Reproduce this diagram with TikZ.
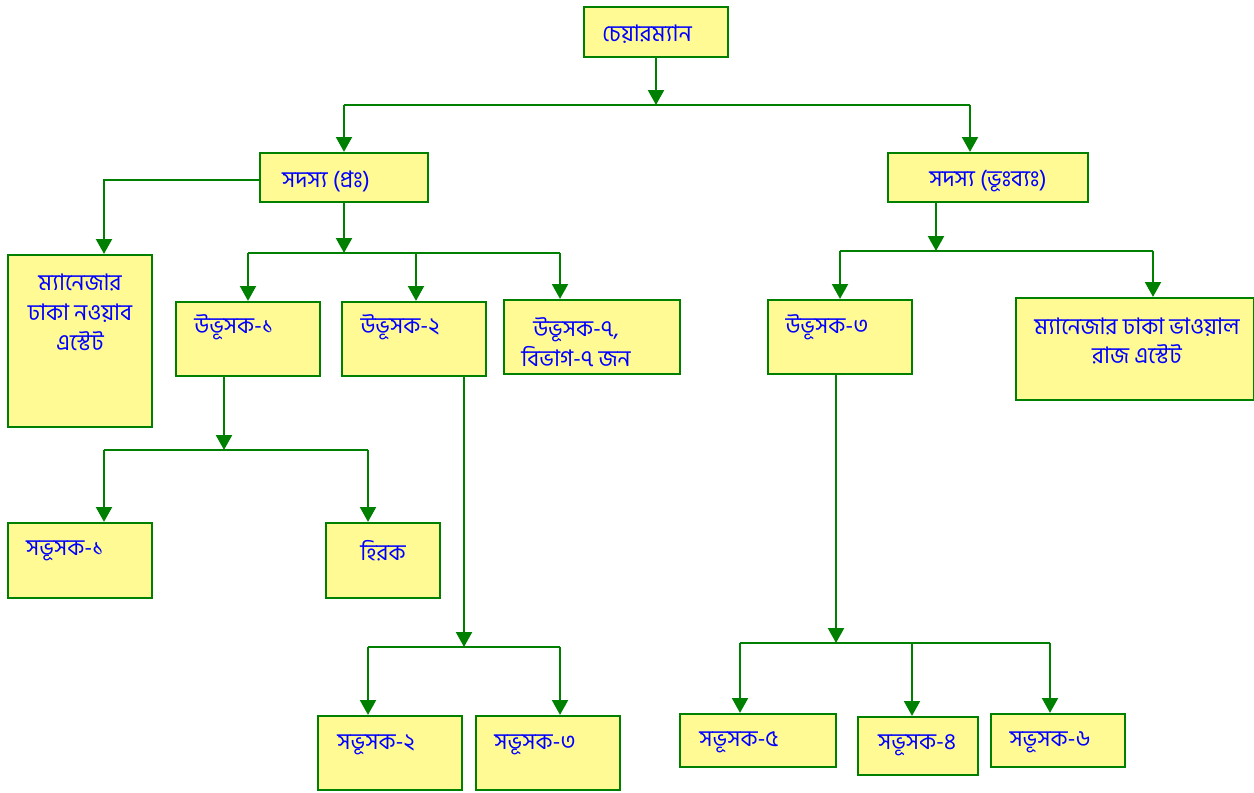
\documentclass[tikz,border=0pt]{standalone}
\usepackage{fontspec}
\newfontfamily\bangla[Script=Bengali]{Hind Siliguri}
\usetikzlibrary{arrows.meta,positioning}

\begin{document}
\begin{tikzpicture}[x=0.02cm,y=-0.02cm]
\colorlet{box edge}{green!50!black}
\colorlet{box area}{yellow!42}
\colorlet{link ink}{green!50!black}
\colorlet{label ink}{blue}
\tikzset{
     post/.style={draw=box edge, fill=box area, line width=1.2pt, inner sep=0pt},
     txt/.style={text=label ink, font=\bangla\fontsize{13}{17}\selectfont, inner sep=0pt, align=center},
     link/.style={draw=link ink, line width=1.5pt},
     arr/.style={link, -{Triangle[width=9pt,length=8.5pt]}}}

\useasboundingbox (0,0) rectangle (1254,793);

% The boxes
\node (chair)  [post, minimum width=2.88cm, minimum height=1.00cm] at (656,32) {};
\node (pra)    [post, minimum width=3.36cm, minimum height=0.98cm] at (344,177.5) {};
\node (bhu)    [post, minimum width=4.00cm, minimum height=0.98cm] at (988,177.5) {};
\node (nawab)  [post, minimum width=2.88cm, minimum height=3.44cm] at (80,341) {};
\node (ub1)    [post, minimum width=2.88cm, minimum height=1.48cm] at (248,339) {};
\node (ub2)    [post, minimum width=2.88cm, minimum height=1.48cm] at (414,339) {};
\node (ub7)    [post, minimum width=3.52cm, minimum height=1.48cm] at (592,337) {};
\node (ub3)    [post, minimum width=2.88cm, minimum height=1.48cm] at (840,337) {};
\node (bhawal) [post, minimum width=4.76cm, minimum height=2.04cm] at (1135,349) {};
\node (sb1)    [post, minimum width=2.88cm, minimum height=1.50cm] at (80,560.5) {};
\node (hirok)  [post, minimum width=2.28cm, minimum height=1.50cm] at (383,560.5) {};
\node (sb2)    [post, minimum width=2.88cm, minimum height=1.48cm] at (390,753) {};
\node (sb3)    [post, minimum width=2.88cm, minimum height=1.48cm] at (548,753) {};
\node (sb5)    [post, minimum width=3.12cm, minimum height=1.06cm] at (758,740.5) {};
\node (sb4)    [post, minimum width=2.40cm, minimum height=1.16cm] at (918,746) {};
\node (sb6)    [post, minimum width=2.68cm, minimum height=1.06cm] at (1058,740.5) {};

% The labels
\node (chairtx)  [txt] at (647,34) {চেয়ারম্যান};
\node (pratx)    [txt] at (326,181) {সদস্য (প্রঃ)};
\node (bhutx)    [txt] at (988,181) {সদস্য (ভূঃব্যঃ)};
\node (nawabtx)  [txt] at (80,312) {ম্যানেজার\\ঢাকা নওয়াব\\এস্টেট};
\node (ub1tx)    [txt] at (234,327) {উভূসক-১};
\node (ub2tx)    [txt] at (400,327) {উভূসক-২};
\node (ub7tx)    [txt] at (576,342) {উভূসক-৭,\\বিভাগ-৭ জন};
\node (ub3tx)    [txt] at (827,327) {উভূসক-৩};
\node (bhawaltx) [txt] at (1137,341) {ম্যানেজার ঢাকা ভাওয়াল\\রাজ এস্টেট};
\node (sb1tx)    [txt] at (65,551) {সভূসক-১};
\node (hiroktx)  [txt] at (383,551) {হিরক};
\node (sb2tx)    [txt] at (376,745) {সভূসক-২};
\node (sb3tx)    [txt] at (535,745) {সভূসক-৩};
\node (sb5tx)    [txt] at (739,742) {সভূসক-৫};
\node (sb4tx)    [txt] at (917,745) {সভূসক-৪};
\node (sb6tx)    [txt] at (1050,742) {সভূসক-৬};

% The junctions
\coordinate (bus0)  at (656,105);
\coordinate (bus0l) at (344,105);
\coordinate (bus0r) at (970,105);
\coordinate (left)  at (104,180);
\coordinate (bus1)  at (344,253);
\coordinate (bus1l) at (248,253);
\coordinate (bus1m) at (416,253);
\coordinate (bus1r) at (560,253);
\coordinate (bus2)  at (936,251);
\coordinate (bus2l) at (840,251);
\coordinate (bus2r) at (1153,251);
\coordinate (bus3)  at (224,450);
\coordinate (bus3l) at (104,450);
\coordinate (bus3r) at (368,450);
\coordinate (bus4)  at (464,647);
\coordinate (bus4l) at (368,647);
\coordinate (bus4r) at (560,647);
\coordinate (bus5)  at (836,643);
\coordinate (bus5l) at (740,643);
\coordinate (bus5m) at (912,643);
\coordinate (bus5r) at (1050,643);

% The connectors
\draw [arr] (chair.south) -- (bus0);
\draw [link] (bus0l) -- (bus0r);
\draw [arr] (bus0l) -- (bus0l |- pra.north);
\draw [arr] (bus0r) -- (bus0r |- bhu.north);

\draw [arr] (pra.west |- left) -- (left) -- (left |- nawab.north);
\draw [arr] (pra.south) -- (bus1);
\draw [link] (bus1l) -- (bus1r);
\draw [arr] (bus1l) -- (bus1l |- ub1.north);
\draw [arr] (bus1m) -- (bus1m |- ub2.north);
\draw [arr] (bus1r) -- (bus1r |- ub7.north);

\draw [arr] (bus2 |- bhu.south) -- (bus2);
\draw [link] (bus2l) -- (bus2r);
\draw [arr] (bus2l) -- (bus2l |- ub3.north);
\draw [arr] (bus2r) -- (bus2r |- bhawal.north);

\draw [arr] (bus3 |- ub1.south) -- (bus3);
\draw [link] (bus3l) -- (bus3r);
\draw [arr] (bus3l) -- (bus3l |- sb1.north);
\draw [arr] (bus3r) -- (bus3r |- hirok.north);

\draw [arr] (bus4 |- ub2.south) -- (bus4);
\draw [link] (bus4l) -- (bus4r);
\draw [arr] (bus4l) -- (bus4l |- sb2.north);
\draw [arr] (bus4r) -- (bus4r |- sb3.north);

\draw [arr] (bus5 |- ub3.south) -- (bus5);
\draw [link] (bus5l) -- (bus5r);
\draw [arr] (bus5l) -- (bus5l |- sb5.north);
\draw [arr] (bus5m) -- (bus5m |- sb4.north);
\draw [arr] (bus5r) -- (bus5r |- sb6.north);
\end{tikzpicture}
\end{document}
